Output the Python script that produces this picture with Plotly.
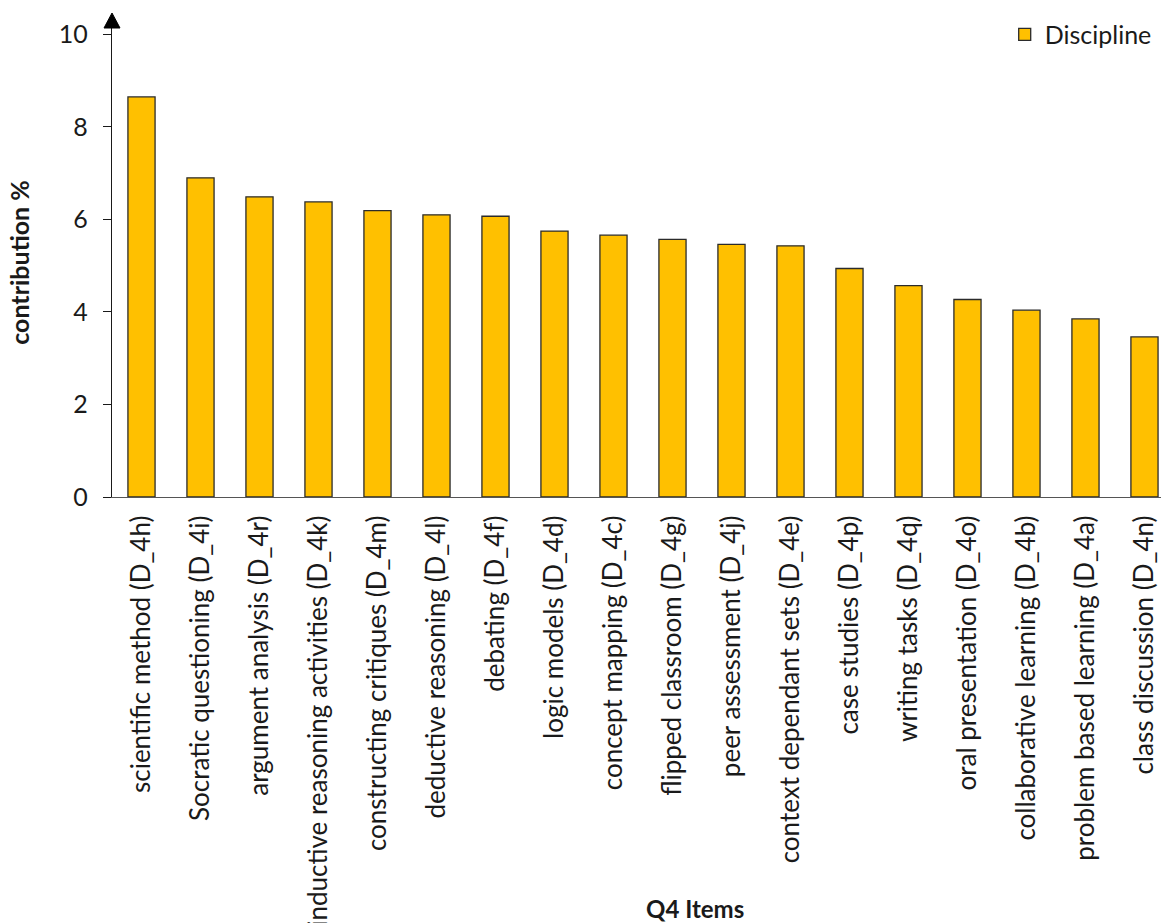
import plotly.graph_objects as go

categories = [
    "scientific method (D_4h)", "Socratic questioning (D_4i)", "argument analysis (D_4r)",
    "inductive reasoning activities (D_4k)", "constructing critiques (D_4m)",
    "deductive reasoning (D_4l)", "debating (D_4f)", "logic models (D_4d)",
    "concept mapping (D_4c)", "flipped classroom (D_4g)", "peer assessment (D_4j)",
    "context dependant sets (D_4e)", "case studies (D_4p)", "writing tasks (D_4q)",
    "oral presentation (D_4o)", "collaborative learning (D_4b)",
    "problem based learning (D_4a)", "class discussion (D_4n)",
]
values = [8.65, 6.90, 6.49, 6.38, 6.19, 6.10, 6.07, 5.75, 5.66, 5.57, 5.46, 5.43,
          4.94, 4.57, 4.27, 4.04, 3.85, 3.46]
y_ticks = [0, 2, 4, 6, 8, 10]
series_name = "Discipline"

FONT = "Lato"
TXT = "#1a1a1a"

fig = go.Figure()
fig.add_trace(go.Bar(
    x=list(range(len(categories))), y=values, name=series_name,
    marker=dict(color="#FFC000", line=dict(color="#2b2b2b", width=1.3)),
    showlegend=True,
))

fig.update_layout(
    width=1161, height=923,
    margin=dict(l=112, r=0, t=28, b=426),
    paper_bgcolor="white", plot_bgcolor="white",
    font=dict(family=FONT, color=TXT, size=20),
    bargap=0.54,
    showlegend=True,
    legend=dict(x=0.851, y=1.035, xanchor="left", yanchor="top",
                font=dict(size=25, family=FONT, color=TXT),
                bgcolor="rgba(0,0,0,0)", itemwidth=30, tracegroupgap=0),
    xaxis=dict(
        tickmode="array", tickvals=list(range(len(categories))), ticktext=categories,
        tickangle=-90, range=[-0.5, 17.28], showline=True, linecolor="#555555",
        linewidth=1.3, ticks="", showgrid=False, zeroline=False,
        ticklabelstandoff=7, automargin=False,
        tickfont=dict(size=26, family=FONT, color=TXT),
    ),
    yaxis=dict(
        range=[0, 10.14], tickmode="array", tickvals=y_ticks,
        ticktext=[str(v) for v in y_ticks], showline=True, linecolor="#1a1a1a",
        linewidth=1.3, ticks="outside", ticklen=8, tickcolor="#1a1a1a", tickwidth=1.2,
        showgrid=False, zeroline=False, ticklabelstandoff=10, automargin=False,
        tickfont=dict(size=25, family=FONT, color=TXT),
        title=dict(text="<b>contribution %</b>", font=dict(size=25, family=FONT, color=TXT),
                   standoff=22),
    ),
    annotations=[dict(
        text="<b>Q4 Items</b>", xref="paper", yref="paper",
        x=(695 - 112) / (1161 - 112), y=-(908 - 496.5) / (496.5 - 28),
        xanchor="center", yanchor="middle", showarrow=False,
        font=dict(size=24, family=FONT, color=TXT),
    )],
    shapes=[dict(
        type="path", xref="paper", yref="paper", xsizemode="pixel", ysizemode="pixel",
        xanchor=0, yanchor=1, path="M -8 0 L 8 0 L 0 15 Z",
        fillcolor="#000000", line=dict(color="#000000", width=1),
    )],
)

fig.write_html("out.html")
